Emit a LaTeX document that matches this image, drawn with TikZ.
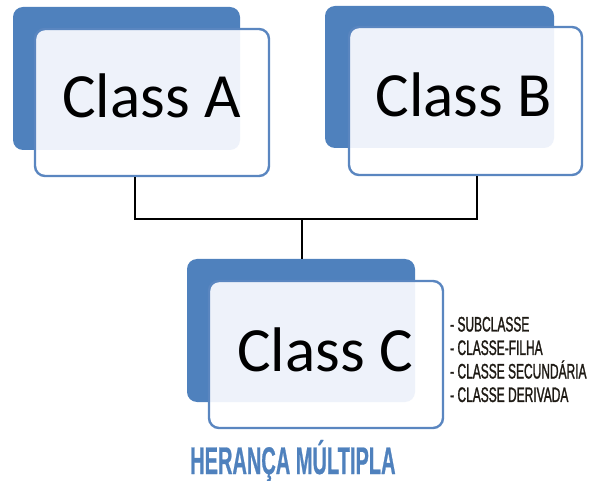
\documentclass[tikz,border=0pt]{standalone}
\usepackage{fontspec}
\setmainfont{Carlito}
\newfontfamily\condfont[FakeStretch=0.57,FakeBold=1.2]{Liberation Sans}
\newfontfamily\condbold[FakeStretch=0.52,FakeBold=0.6]{Liberation Sans Bold}
\definecolor{darkblue}{HTML}{4F81BD}
\definecolor{edgeblue}{HTML}{5A86C0}
\definecolor{lightfill}{HTML}{EEF2FA}
\definecolor{labeltext}{HTML}{1E1A14}
\tikzset{
  backbox/.style={fill=darkblue, draw=none, rounded corners=10pt},
  frontedge/.style={draw=edgeblue, line width=2.4pt, rounded corners=10pt},
  classtext/.style={font=\fontsize{63}{63}\selectfont, anchor=base, inner sep=0pt},
  link/.style={draw=black, line width=2pt},
  sidelabel/.style={font=\condfont\fontsize{21}{21}\selectfont, text=labeltext, anchor=base west, inner sep=0pt},
}
\begin{document}
\begin{tikzpicture}[x=1pt,y=-1pt]
\useasboundingbox (0,0) rectangle (595,481);
% ---------- Class A ----------
\fill[backbox] (13,7) rectangle (240,150);
\fill[white, rounded corners=10pt] (35,29) rectangle (269,176);
\begin{scope}
  \clip[rounded corners=10pt] (13,7) rectangle (240,150);
  \fill[lightfill, rounded corners=10pt] (35,29) rectangle (269,176);
\end{scope}
\node[frontedge, minimum width=234pt, minimum height=147pt, inner sep=0pt] (A) at (152,102.5) {};
\node[classtext] (Atext) at (151.5,118) {Class A};
% ---------- Class B ----------
\fill[backbox] (325,6) rectangle (554,148);
\fill[white, rounded corners=10pt] (349,27) rectangle (582,175);
\begin{scope}
  \clip[rounded corners=10pt] (325,6) rectangle (554,148);
  \fill[lightfill, rounded corners=10pt] (349,27) rectangle (582,175);
\end{scope}
\node[frontedge, minimum width=233pt, minimum height=148pt, inner sep=0pt] (B) at (465.5,101) {};
\node[classtext] (Btext) at (463.5,117) {Class B};
% ---------- Class C ----------
\node[backbox, minimum width=228pt, minimum height=143pt, inner sep=0pt] (Cback) at (301,330.5) {};
\fill[white, rounded corners=10pt] (209,281) rectangle (443,428);
\begin{scope}
  \clip[rounded corners=10pt] (187,259) rectangle (415,402);
  \fill[lightfill, rounded corners=10pt] (209,281) rectangle (443,428);
\end{scope}
\node[frontedge, minimum width=234pt, minimum height=147pt, inner sep=0pt] (C) at (326,354.5) {};
\node[classtext] (Ctext) at (325,372) {Class C};
% ---------- connectors ----------
\coordinate (j) at (302,219);
\draw[link] ([xshift=-17pt]A.south) |- (j);
\draw[link] ([xshift=11.5pt]B.south) |- (j);
\draw[link] (j) -- (j |- Cback.north);
% ---------- side labels ----------
\node[sidelabel] (l1) at (450,331.5) {- SUBCLASSE};
\node[sidelabel] (l2) at (450,355) {- CLASSE-FILHA};
\node[sidelabel] (l3) at (450,378.5) {- CLASSE SECUNDÁRIA};
\node[sidelabel] (l4) at (450,402) {- CLASSE DERIVADA};
% ---------- title ----------
\node[font=\condbold\fontsize{38.5}{38.5}\selectfont, text=darkblue, anchor=base west, inner sep=0pt] (title) at (190,474) {HERANÇA MÚLTIPLA};
\end{tikzpicture}
\end{document}
